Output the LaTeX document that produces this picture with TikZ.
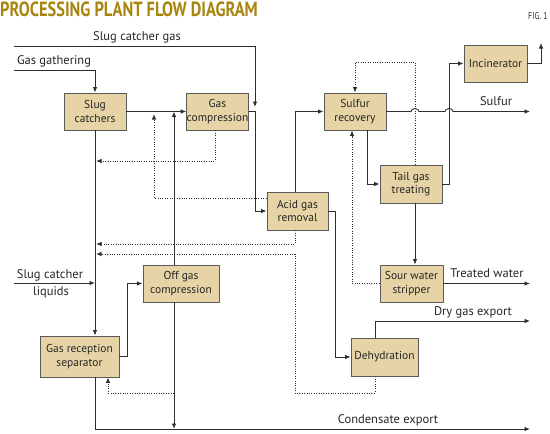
\documentclass[tikz,border=0pt]{standalone}
\usepackage{fontspec}
\setmainfont{PT Sans}
\newfontfamily\titlefont[FakeStretch=0.8]{PT Sans}
\usetikzlibrary{arrows.meta,calc}
\definecolor{boxfill}{HTML}{E6D4A6}
\definecolor{boxline}{HTML}{5A5A5A}
\definecolor{titlegold}{HTML}{A8850F}
\definecolor{linecol}{HTML}{2E2E2E}
\tikzset{
  unit/.style={draw=boxline,fill=boxfill,line width=0.9pt,minimum height=37pt,
    align=center,inner sep=0pt,font=\fontsize{11.5}{13.5}\selectfont,text=black!85},
  pipe/.style={draw=linecol,line width=0.9pt},
  flow/.style={pipe,-{Latex[length=5.5pt,width=4.5pt]}},
  recyc/.style={flow,dash pattern=on 1pt off 1.4pt},
  lbl/.style={font=\fontsize{12.5}{14}\selectfont,text=black!85,inner sep=0pt},
  jump/.style={x radius=4pt,y radius=3pt,start angle=180,end angle=0}
}

\begin{document}
\begin{tikzpicture}[x=1pt,y=-1pt]
%%%%% START %%%%%
\useasboundingbox (0,0) rectangle (550,434);

\node[anchor=base west,inner sep=0pt,text=titlegold,font=\titlefont\bfseries\fontsize{20.5}{20.5}\selectfont] (title) at (0,16) {PROCESSING PLANT FLOW DIAGRAM};
\node[anchor=base east,inner sep=0pt,text=black!80,font=\titlefont\fontsize{10}{10}\selectfont] (fig) at (548,19) {FIG. 1};

% units
\node[unit,minimum width=62pt] (slug) at (95,111.5) {Slug\\catchers};
\node[unit,minimum width=61pt] (gcomp) at (217.5,111.5) {Gas\\compression};
\node[unit,minimum width=62pt] (sulf) at (355,111.5) {Sulfur\\recovery};
\node[unit,minimum width=63pt] (incin) at (495.5,63.5) {Incinerator};
\node[unit,minimum width=62pt,minimum height=38pt] (tgt) at (411,184) {Tail gas\\treating};
\node[unit,minimum width=61pt,minimum height=38pt] (agr) at (297.5,211) {Acid gas\\removal};
\node[unit,minimum width=63pt] (sws) at (411.5,283.5) {Sour water\\stripper};
\node[unit,minimum width=76pt] (ogc) at (181,283.5) {Off gas\\compression};
\node[unit,minimum width=79pt,minimum height=41pt] (grs) at (79.5,356.5) {Gas reception\\separator};
\node[unit,minimum width=67pt,minimum height=38pt] (dehy) at (384.5,357) {Dehydration};

% free ends and pipe runs
\coordinate (sgin) at (14,46);
\coordinate (ggin) at (14,70);
\coordinate (sclin) at (14,283);
\coordinate (sgx) at (255,107);
\coordinate (offx) at (174,0);
\coordinate (grx) at (127,0);
\coordinate (sepx) at (108,0);
\coordinate (agx) at (295,0);
\coordinate (gcx) at (215,0);
\coordinate (dhx) at (335,0);
\coordinate (dryx) at (375,0);
\coordinate (swx) at (352,0);
\coordinate (sox) at (367,0);
\coordinate (tgx) at (415,0);
\coordinate (inx) at (449,0);
\coordinate (rcy) at (0,198);
\coordinate (lowret) at (174,393);
\coordinate (topret) at (355,62);
\coordinate (rA) at (96,161);
\coordinate (rB) at (96,244);
\coordinate (rC) at (96,254);
\coordinate (rD) at (154,114);
\coordinate (stack) at (541,43);
\coordinate (sulfout) at (530,111.5);
\coordinate (watout) at (530,283.5);
\coordinate (dryout) at (530,321);
\coordinate (condout) at (530,429);

% process lines
\draw[flow] (sgin) -| (sgx);
\draw[flow] (ggin) -| (slug.north);
\draw[flow] (sclin) -- (sclin -| slug.south);
\draw[flow] (slug.east) -- (gcomp.west);
\draw[flow] (slug.south) -- (slug.south |- grs.north);
\draw[flow] (gcomp.east) -| (sgx |- agr.west) -- (agr.west);
\draw[flow] (ogc.north -| offx) -- (offx |- slug.east);
\draw[flow] (grs.east) -| (grx |- ogc.west) -- (ogc.west);
\draw[flow] (ogc.south -| offx) -- (offx |- condout);
\draw[flow] (slug.south |- grs.south) -- (slug.south |- condout) -- (condout);
\draw[flow] (agr.north -| agx) |- (sulf.west);
\draw[flow] (agr.east) -| (dhx |- dehy.west) -- (dehy.west);
\draw[flow] (dehy.north -| dryx) |- (dryout);
\draw[flow] (sulf.east) -- ([xshift=-4pt]tgx |- sulf.east) arc[jump]
  -- ([xshift=-4pt]inx |- sulf.east) arc[jump] -- (sulfout);
\draw[flow] (sulf.south -| sox) |- (tgt.west);
\draw[flow] (tgt.east) -| (inx |- incin.west) -- (incin.west);
\draw[flow] (incin.east) -| (stack);
\draw[flow] (tgt.south -| tgx) -- (tgx |- sws.north);
\draw[flow] (sws.east) -- (watout);

% recycle lines
\draw[recyc] (lowret) -| (sepx |- grs.south);
\draw[recyc] (gcomp.south -| gcx) |- (rA);
\draw[recyc] (agr.south -| agx) |- (rB);
\draw[recyc] (dehy.south -| dryx) |- (agx |- lowret) -- (agx |- rC) -- (rC);
\draw[recyc] (agr.west |- rcy) -| (rD);
\draw[recyc] (tgt.north -| tgx) |- (topret) -- (sulf.north);
\draw[recyc] (sws.west) -| (swx |- sulf.south);

% stream labels
\node[lbl] (lsg) at (137,37) {Slug catcher gas};
\node[lbl] (lgg) at (54,61) {Gas gathering};
\node[lbl] (lsc) at (50,275) {Slug catcher};
\node[lbl] (lliq) at (51,292) {liquids};
\node[lbl] (lsul) at (496,101) {Sulfur};
\node[lbl] (ltw) at (487,273) {Treated water};
\node[lbl] (ldg) at (473,312) {Dry gas export};
\node[lbl] (lce) at (388,420) {Condensate export};
%%%%% END %%%%%
\end{tikzpicture}
\end{document}
